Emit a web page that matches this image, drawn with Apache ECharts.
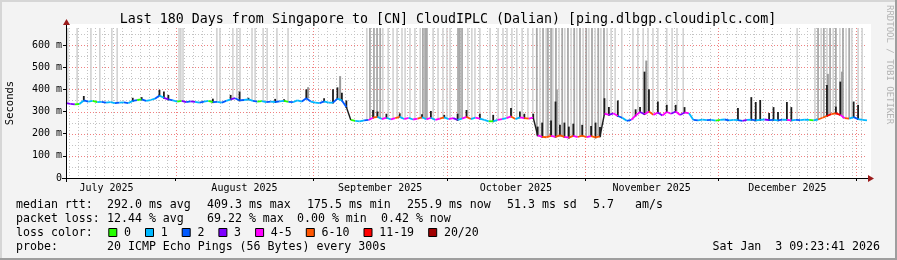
<!DOCTYPE html>
<html><head><meta charset="utf-8">
<script src="https://cdn.jsdelivr.net/npm/echarts@6/dist/echarts.min.js"></script>
<style>html,body{margin:0;padding:0;background:#f3f3f3}#c{width:897px;height:260px}</style>
</head><body><div id="c"></div>
<script>
// ---------- data ----------
const endTime = Date.UTC(2026,0,3,9,23,41);
const SPAN = 180; // days shown
const startTime = endTime - SPAN*86400000;
const monthStarts = ['2025-07-01','2025-08-01','2025-09-01','2025-10-01','2025-11-01','2025-12-01','2026-01-01','2026-02-01'];
const monthLabels = ['July 2025','August 2025','September 2025','October 2025','November 2025','December 2025'];
const yTicks = [0,100,200,300,400,500,600];
const yMinor = [50,150,250,350,450,550,650];
const Y_MAX = 677;

// median rtt per day (ms), day 0 .. 180
const median = [
 338,335,332,334,350,345,348,342,344,340, 342,338,340,341,338,348,352,355,348,352,
 358,372,362,355,350,345,348,342,346,344, 340,345,348,342,344,340,348,355,360,350,
 352,355,348,345,347,342,345,343,346,348, 344,342,350,345,360,345,340,338,346,340,
 340,358,350,320,
 262,258,256,260,262,272,276,266,272,265, 270,276,266,271,264,268,274,265,272,262,
 268,274,266,270,262,268,276,266,272,268, 262,256,256,262,266,270,278,266,274,270,
 268,272,
 192,186,184,190,186,192,186,182,190,185,191,184,189,183,188,
 290,285,292,280,272,258,262,282,298,288,300,285,296,282,298,290,300,284,296,292,
 262,260,263,261,262,259,262,264,260,262, 261,258,262,263,260,262,264,261,262,260,
 263,262,260,262,261,263,262,260,264,
 272,280,288,292,285,270,268,275,266,262,260
];
// loss colour class per day (index into lossLabels)
const lossIdx = [
 2,3,3,0,1,2,1,0,1,2, 1,1,2,1,2,1,2,0,2,1, 1,2,1,3,2,1,0,3,2,3, 1,2,1,0,2,1,2,1,3,2,
 2,1,1,2,0,1,2,1,2,1, 0,2,1,1,2,2,1,1,2,1, 1,2,1,2,
 1,0,1,1,2, 4,5,1,4,1, 4,5,1,4,1, 4,5,1,4,1, 4,5,1,4,3, 1,4,5,1,4, 1,1,0,1,4, 1,4,5,1,4, 5,4,
 5,4,5,5,4,5,5,4,5,4,5,5,4,5,5,
 5,4,3,4,2,1,2,4,4,3,4,5,4,3,4,4,3,4,3,4,
 1,2,1,1,2,1,0,1,2,1, 1,2,3,1,2,1,1,3,2,1, 2,1,4,1,2,1,1,0,1,
 5,5,6,5,6,4,5,1,2,1,1
];
const lossLabels = ['0','1','2','3','4-5','6-10','11-19','20/20'];
const lossColors = ['#26ff00','#00b8ff','#0059ff','#7e00ff','#ff00ff','#ff5500','#ff0000','#a10000'];

// dark smoke spikes: day, top (ms)
const spikeDay = [4,15,17,21,22,23,33,37,39,41,47,49,54,58,60,61,62,63,
 69,70,72,75,80,82,85,88,90,93,96,100,102,103,105,
 106,107,109,110,111,112,113,114,116,118,119,120,
 121,122,124,128,129,130,131,133,135,137,139,
 151,154,155,156,158,159,160,162,163,171,173,174,177,178];
const spikeTop = [370,362,365,398,390,375,358,375,390,362,357,355,400,360,400,409,385,350,
 307,300,290,292,288,302,285,290,307,290,285,316,300,290,290,
 232,250,260,345,240,250,232,245,240,235,250,230,
 360,320,350,310,320,480,400,345,330,330,320,
 316,365,343,352,293,320,298,343,320,420,322,435,345,330];
// grey smoke above some spikes: day, top (ms)
const greyDay = [54.4,61.6,110.3,130.4,171.2,174.4];
const greyTop = [410,460,400,530,470,480];
// off-scale pings (bars running to the top): light and medium grey, in days
const offLight = [0.4,2.5,5.6,7.6,10.3,11.5,25.4,25.8,26.3,33.9,34.6,37.5,38.4,39.1,41.8,42.5,44.3,45.2,47.4,49.9,
 67.6,71.2,72.4,73.5,74.4,75.5,76.2,77.3,78.4,79.6,82.5,83.6,84.7,85.6,86.3,90.3,91.2,91.9,93.0,95.3,97.1,98.2,99.1,100.2,101.3,102.5,103.8,104.9,
 106.5,107.9,109.4,110.8,112.1,113.5,114.8,116.2,117.5,118.9,120.2,
 121.6,122.5,123.4,124.9,127.4,128.5,129.7,130.8,131.9,133.0,135.0,136.2,137.3,138.7,
 164.3,168.3,169.7,171.0,172.4,173.9,175.3,176.6,178.0,178.9];
const offMid = [68.3,69.2,69.9,70.6,80.2,80.7,81.1,88.1,88.5,89.0,
 105.8,107.2,108.3,109.0,110.1,111.5,112.8,114.2,115.5,116.9,118.2,119.6,120.9,
 169.0,170.3,171.7,173.0,174.6,176.0];

// ---------- helpers ----------
const dayOf = s => (Date.parse(s+'T00:00:00Z') - startTime)/86400000;
const mAll = monthStarts.map(dayOf);
const monthBounds = mAll.filter(d => d >= 0 && d <= SPAN);
const monthCenters = monthLabels.map((_, k) => (mAll[k] + mAll[k+1]) / 2);
const minorV = [];
for (let d = dayOf('2025-07-08'); d <= SPAN; d += 2) minorV.push(d);
const medAt = d => median[Math.min(median.length-1, Math.max(0, Math.round(d)))];

const MONO = '"DejaVu Sans Mono", monospace';
const GL = 66, GT = 28, GW = 801, GH = 150;

const chart = echarts.init(document.getElementById('c'), null, {renderer:'canvas', width:897, height:260});

function gridRender(params, api) {
  const ch = [];
  const xL = api.coord([0,0])[0], xR = api.coord([SPAN,0])[0];
  const yB = api.coord([0,0])[1], yT = api.coord([0,Y_MAX])[1];
  const hl = (v, c) => { const y = Math.round(api.coord([0,v])[1]) + 0.5;
    ch.push({type:'line', shape:{x1:xL, y1:y, x2:xR, y2:y}, style:{stroke:c, lineWidth:1, lineDash:[1,2]}}); };
  const vl = (d, c) => { const x = Math.round(api.coord([d,0])[0]) + 0.5;
    ch.push({type:'line', shape:{x1:x, y1:yT, x2:x, y2:yB}, style:{stroke:c, lineWidth:1, lineDash:[1,2]}}); };
  yMinor.forEach(v => hl(v, '#c4c4c4'));
  minorV.forEach(d => vl(d, '#c4c4c4'));
  yTicks.slice(1).forEach(v => hl(v, '#f08080'));
  monthBounds.forEach(d => vl(d, '#f08080'));
  return {type:'group', children: ch};
}
function barRender(color, w) {
  return (params, api) => {
    const d = api.value(0);
    const p0 = api.coord([d, api.value(1)]), p1 = api.coord([d, api.value(2)]);
    return {type:'rect', shape:{x:p0[0]-w/2, y:p1[1], width:w, height:p0[1]-p1[1]}, style:{fill:color}};
  };
}

const series = [
  {type:'custom', silent:true, clip:false, data:[[0,0]], renderItem:gridRender, z:1},
  {type:'custom', silent:true, data: offLight.map(d => [d, medAt(d), Y_MAX]), renderItem: barRender('#d2d2d2', 1.6), z:2},
  {type:'custom', silent:true, data: offMid.map(d => [d, medAt(d), Y_MAX]), renderItem: barRender('#a8a8a8', 1.8), z:3},
  {type:'custom', silent:true, data: greyDay.map((d,k) => [d, medAt(d), greyTop[k]]), renderItem: barRender('#9a9a9a', 2), z:4},
  {type:'custom', silent:true, data: spikeDay.map((d,k) => [d, medAt(d)-4, spikeTop[k]]), renderItem: barRender('#1c1c1c', 1.8), z:5},
  {type:'custom', silent:true, data: median.map((m,i) => [i, m, lossIdx[i]]), z:6,
   renderItem: (params, api) => {
     const i = params.dataIndex; if (i === 0) return null;
     const p0 = api.coord([i-1, median[i-1]]), p1 = api.coord([i, api.value(1)]);
     const big = Math.abs(api.value(1) - median[i-1]) > 40;
     return {type:'line', shape:{x1:p0[0], y1:p0[1], x2:p1[0], y2:p1[1]},
       style:{stroke: big ? '#1c1c1c' : lossColors[api.value(2)], lineWidth: big ? 1.4 : 1.8}};
   }}
];

// legend graphics
const g = [];
const txt = (text, x, y, opt={}) => g.push({type:'text', x, y, rotation: opt.rot||0, z:20, silent:true,
  style:{text, font: (opt.size||11.6)+'px '+MONO, fill: opt.fill||'#000', align: opt.align||'left', verticalAlign:'middle'}});
// frame
g.push({type:'rect', shape:{x:GL, y:24, width:871-GL, height:178-24}, style:{fill:'#fff'}, z:-10, silent:true});
g.push({type:'rect', shape:{x:0, y:0, width:897, height:2}, style:{fill:'#d6d6d6'}, silent:true});
g.push({type:'rect', shape:{x:0, y:0, width:2, height:260}, style:{fill:'#d6d6d6'}, silent:true});
g.push({type:'rect', shape:{x:0, y:258, width:897, height:2}, style:{fill:'#9e9e9e'}, silent:true});
g.push({type:'rect', shape:{x:895, y:0, width:2, height:260}, style:{fill:'#9e9e9e'}, silent:true});
// axis extensions and arrows
g.push({type:'line', shape:{x1:62, y1:178.5, x2:870, y2:178.5}, style:{stroke:'#000', lineWidth:1}, z:15, silent:true});
g.push({type:'line', shape:{x1:66.5, y1:182, x2:66.5, y2:24}, style:{stroke:'#000', lineWidth:1}, z:15, silent:true});
g.push({type:'polygon', shape:{points:[[63,25],[70,25],[66.5,19]]}, style:{fill:'#9b1c1c'}, z:16, silent:true});
g.push({type:'polygon', shape:{points:[[868,175],[868,182],[874,178.5]]}, style:{fill:'#9b1c1c'}, z:16, silent:true});

txt('Last 180 Days from Singapore to [CN] CloudIPLC (Dalian) [ping.dlbgp.cloudiplc.com]', 448, 19.5, {size:13.3, align:'center'});
txt('Seconds', 10, 103, {size:10.5, align:'center', rot: Math.PI/2});
txt('RRDTOOL / TOBI OETIKER', 889, 5, {size:9, fill:'#b4b4b4', rot: -Math.PI/2});

const L1 = [['median rtt:',16],['292.0 ms avg',107],['409.3 ms max',207],['175.5 ms min',307],['255.9 ms now',407],['51.3 ms sd',507],['5.7',593],['am/s',635]];
const L2 = [['packet loss:',16],['12.44 % avg',107],['69.22 % max',207],['0.00 % min',297],['0.42 % now',381]];
L1.forEach(([t,x]) => txt(t, x, 204.5));
L2.forEach(([t,x]) => txt(t, x, 218.5));
txt('loss color:', 16, 232.5);
let cx = 108.3;
lossLabels.forEach((lab, k) => {
  g.push({type:'rect', shape:{x:cx+0.5, y:228.5, width:8, height:8}, style:{fill:lossColors[k], stroke:'#000', lineWidth:1}, z:20, silent:true});
  txt(lab, cx+15.7, 232.5);
  cx += 15.7 + lab.length*7.0 + 14;
});
txt('probe:', 16, 246.5);
txt('20 ICMP Echo Pings (56 Bytes) every 300s', 107, 246.5);
txt('Sat Jan  3 09:23:41 2026', 880, 246.5, {align:'right'});

chart.setOption({
  animation:false,
  backgroundColor:'#f3f3f3',
  grid:{left:GL, top:GT, width:GW, height:GH, show:false},
  xAxis:{type:'value', min:0, max:SPAN,
    axisLine:{show:false},
    axisTick:{show:true, customValues: monthBounds, length:3, inside:false, lineStyle:{color:'#000'}},
    axisLabel:{show:true, customValues: monthCenters, margin:5, fontFamily:MONO, fontSize:10, color:'#000',
      formatter: v => { const k = monthCenters.findIndex(c => Math.abs(c - v) < 1e-6); return k >= 0 ? monthLabels[k] : ''; }},
    splitLine:{show:false}},
  yAxis:{type:'value', min:0, max:Y_MAX, interval:100,
    axisLine:{show:false},
    axisTick:{show:true, customValues: yTicks, length:3, lineStyle:{color:'#000'}},
    axisLabel:{show:true, customValues: yTicks, margin:4, fontFamily:MONO, fontSize:10, color:'#000',
      formatter: v => v === 0 ? '0' : v + ' m'},
    splitLine:{show:false}},
  series,
  graphic: g
});
</script></body></html>
